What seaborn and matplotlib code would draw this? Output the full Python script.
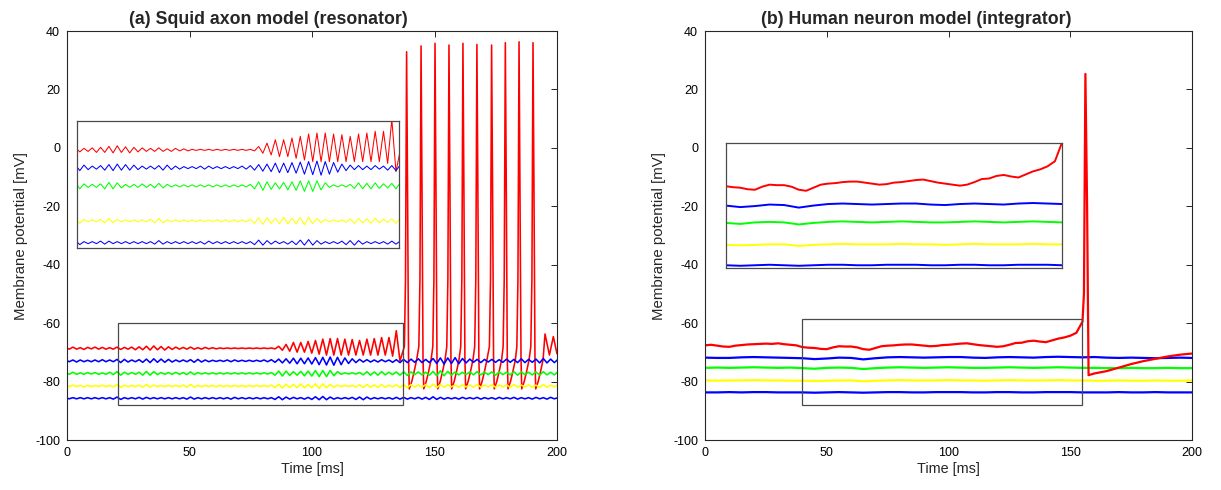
import numpy as np
import matplotlib
matplotlib.use("Agg")
import matplotlib.pyplot as plt
import seaborn as sns
from matplotlib.patches import Rectangle

# ======================= DATA =======================
# ---- panel (a): squid axon model, traces sampled every half oscillation period ----
A_STEP = 1.5      # ms between successive extrema
A_T0 = -0.6       # time of first sample (ms)
a_names = ["red", "blue1", "green", "yellow", "blue2"]
a_base = [-68.6, -72.9, -77.2, -81.5, -85.7]          # resting levels (mV)

a_red_dev = [0.3, -0.3, 0.4, -0.3, 0.2, -0.4, 0.3, -0.2, 0.4, -0.3, 0.3, -0.3, 0.2, -0.3,
             0.4, -0.4, 0.3, -0.3, 0.4, -0.5, 0.5, -0.5, 0.7, -0.6, 0.8, -0.5, 0.6, -0.6, 0.5, -0.4, 0.4,
             -0.3, 0.3, -0.3, 0.4, -0.3, 0.2, -0.3, 0.3, -0.2, 0.2, -0.2,
             0.1, -0.1, 0.1, -0.1, 0.1, -0.1, 0.1, -0.1, 0.1, -0.1, 0.1, -0.1, 0.1, -0.1, 0.1,
             -0.2, 0.67, -0.67, 1.33, -1.0, 2.0, -1.33, 2.0, -1.33, 2.33, -1.67, 2.67, -2.0, 3.13,
             -2.33, 3.33, -2.33, 3.33, -2.33, 3.13, -2.33, 3.0, -2.33, 2.67, -2.33, 3.13, -2.33, 3.33,
             -2.33, 3.67, -2.33, 3.67, -2.67, 6.0, -4.3]
a_blue1_dev = [0.3, -0.3, 0.3, -0.4, 0.3, -0.3, 0.2, -0.3, 0.3, -0.3, 0.4, -0.3, 0.3, -0.3,
               0.5, -0.6, 0.5, -0.4, 0.3, -0.3, 0.4, -0.5, 0.6, -0.6, 0.7, -0.5, 0.6, -0.5, 0.5, -0.4, 0.3,
               -0.3, 0.3, -0.3, 0.4, -0.5, 0.5, -0.4, 0.3, -0.3, 0.2, -0.2,
               0.2, -0.2, 0.3, -0.3, 0.3, -0.2, 0.2, -0.2, 0.2, -0.2, 0.2, -0.2, 0.3, -0.3, 0.4,
               -0.5, 0.6, -0.7, 0.7, -0.8, 0.9, -1.0, 0.9, -1.0, 1.0, -1.1, 1.1, -1.3, 1.2, -1.4, 1.3,
               -1.5, 1.2, -1.3, 1.0, -0.9, 0.7, -0.6, 0.5, -0.4, 0.4, -0.4, 0.3, -0.4, 0.4, -0.3, 0.3,
               -0.5, 0.4, -0.6,
               0.5, -0.6, 0.6, -0.5, 0.7, -0.6, 0.5, -0.6, 0.8, -0.9, 1.0, -1.1, 1.0, -0.9, 1.1, -1.0,
               0.8, -0.7, 0.6, -0.5, 0.5, -0.6, 0.5, -0.4, 0.5, -0.5, 0.4, -0.5, 0.6, -0.5, 0.5, -0.6,
               0.7, -0.6, 0.5, -0.5, 0.6, -0.7, 0.8, -0.7, 0.6, -0.6, 0.5]
a_green_dev = [0.3, -0.3, 0.4, -0.3, 0.2, -0.3, 0.3, -0.2, 0.3, -0.3, 0.2, -0.3, 0.4, -0.4,
               0.6, -0.6, 0.4, -0.3, 0.3, -0.3, 0.4, -0.6, 0.7, -0.6, 0.6, -0.4, 0.3, -0.3, 0.3, -0.3, 0.4,
               -0.3, 0.3, -0.4, 0.5, -0.4, 0.3, -0.2, 0.2, -0.2, 0.2, -0.2,
               0.2, -0.2, 0.2, -0.2, 0.2, -0.2, 0.2, -0.2, 0.2, -0.2, 0.2, -0.2, 0.2, -0.2, 0.3,
               -0.6, 0.8, -0.9, 0.8, -0.7, 0.6, -0.6, 0.7, -0.8, 0.8, -0.9, 1.0, -1.1, 1.0, -1.1, 1.0,
               -0.8, 0.6, -0.3, 0.2, -0.2, 0.2, -0.2, 0.3, -0.5, 0.6, -0.6, 0.5, -0.6, 0.6, -0.5, 0.4,
               -0.4, 0.5, -0.6,
               0.6, -0.7, 0.5, -0.4, 0.5, -0.5, 0.4, -0.6, 0.7, -0.8, 0.9, -0.8, 0.7, -0.6, 0.5, -0.5,
               0.4, -0.4, 0.5, -0.5, 0.6, -0.5, 0.4, -0.4, 0.5, -0.6, 0.5, -0.4, 0.4, -0.5, 0.6, -0.6,
               0.5, -0.4, 0.4, -0.5, 0.5, -0.6, 0.6, -0.5, 0.4, -0.5, 0.6]
a_yellow_dev = [0.2, -0.2, 0.3, -0.2, 0.2, -0.3, 0.2, -0.2, 0.2, -0.2, 0.3, -0.2, 0.2, -0.3,
                0.5, -0.5, 0.3, -0.2, 0.2, -0.2, 0.3, -0.4, 0.5, -0.4, 0.3, -0.2, 0.2, -0.2, 0.2, -0.2, 0.2,
                -0.2, 0.3, -0.4, 0.5, -0.4, 0.2, -0.2, 0.2, -0.2, 0.2, -0.2,
                0.2, -0.2, 0.2, -0.2, 0.2, -0.2, 0.2, -0.2, 0.2, -0.2, 0.2, -0.2, 0.2, -0.2, 0.3,
                -0.5, 0.6, -0.7, 0.6, -0.5, 0.5, -0.6, 0.7, -0.6, 0.5, -0.6, 0.7, -0.8, 0.7, -0.6, 0.5,
                -0.4, 0.3, -0.2, 0.2, -0.2, 0.2, -0.3, 0.4, -0.5, 0.5, -0.4, 0.4, -0.5, 0.5, -0.4, 0.3,
                -0.3, 0.4, -0.5,
                0.5, -0.6, 0.5, -0.4, 0.4, -0.4, 0.5, -0.6, 0.7, -0.6, 0.5, -0.4, 0.4, -0.3, 0.3, -0.4,
                0.4, -0.3, 0.3, -0.4, 0.5, -0.4, 0.3, -0.3, 0.4, -0.4, 0.3, -0.3, 0.4, -0.5, 0.5, -0.4,
                0.3, -0.3, 0.4, -0.4, 0.3, -0.4, 0.5, -0.4, 0.3, -0.3, 0.4]
a_blue2_dev = [0.2, -0.2, 0.2, -0.2, 0.2, -0.2, 0.2, -0.2, 0.2, -0.2, 0.2, -0.2, 0.2, -0.3,
               0.4, -0.4, 0.2, -0.2, 0.2, -0.2, 0.3, -0.3, 0.3, -0.2, 0.2, -0.2, 0.2, -0.2, 0.2, -0.2, 0.2,
               -0.2, 0.2, -0.3, 0.4, -0.3, 0.2, -0.2, 0.2, -0.2, 0.2, -0.2,
               0.2, -0.2, 0.2, -0.3, 0.3, -0.2, 0.2, -0.2, 0.2, -0.2, 0.2, -0.2, 0.2, -0.2, 0.2,
               -0.4, 0.5, -0.5, 0.4, -0.3, 0.3, -0.2, 0.2, -0.3, 0.3, -0.4, 0.5, -0.5, 0.6, -0.5, 0.4,
               -0.3, 0.2, -0.2, 0.2, -0.2, 0.3, -0.4, 0.4, -0.5, 0.4, -0.3, 0.2, -0.2, 0.2, -0.2, 0.2,
               -0.3, 0.3, -0.3,
               0.3, -0.3, 0.2, -0.2, 0.3, -0.3, 0.3, -0.4, 0.5, -0.4, 0.3, -0.3, 0.2, -0.2, 0.2, -0.3,
               0.3, -0.2, 0.2, -0.2, 0.3, -0.3, 0.2, -0.2, 0.2, -0.3, 0.3, -0.2, 0.2, -0.2, 0.3, -0.3,
               0.2, -0.2, 0.2, -0.3, 0.3, -0.2, 0.2, -0.3, 0.3, -0.2, 0.2]

# spike train of the red trace in (a)
a_spike_times = [138.6, 144.5, 150.2, 155.9, 161.6, 167.3, 173.3, 178.9, 184.5, 190.2]
a_spike_peaks = [32.9, 34.9, 35.8, 35.2, 35.8, 35.4, 35.2, 36.0, 36.3, 36.0]
a_spike_shape_dt = [-0.9, -0.45, 0.0, 0.4, 0.8, 1.1, 2.1, 3.1, 4.1]
a_spike_shape_v = [-68.0, -45.0, None, -15.0, -72.0, -82.5, -80.0, -76.5, -72.5]
a_tail_t = [195.1, 196.9, 198.5, 200.0]
a_tail_v = [-63.7, -70.9, -64.6, -70.5]

# ---- panel (b): human neuron model ----
b_red_step = 2.5
b_red_pre = [-67.6, -67.4, -67.7, -68.0, -68.1, -67.7, -67.5, -67.3, -67.2, -67.1, -67.0, -67.1,
             -66.9, -67.2, -67.4, -67.6, -68.2, -68.4, -68.5, -68.8, -68.9, -68.3, -67.9, -68.0,
             -68.0, -68.3, -68.9, -69.1, -68.5, -67.9, -67.7, -67.6, -67.4, -67.3, -67.3, -67.5,
             -67.7, -67.9, -67.8, -67.5, -67.4, -67.2, -67.0, -66.9, -67.2, -67.5, -67.7, -67.9,
             -68.1, -67.9, -67.4, -66.8, -66.7, -66.2, -66.0, -66.3, -66.5, -65.9, -65.3, -64.9,
             -64.3, -63.3, -59.5]
b_spike_t = [155.6, 156.2, 156.9, 157.5]
b_spike_v = [-50.0, 25.3, -20.0, -77.8]
b_recov_t = [160, 165, 170, 175, 180, 185, 190, 195, 200]
b_recov_v = [-77.2, -76.4, -75.2, -74.0, -73.0, -72.2, -71.4, -70.8, -70.4]

b_step = 5.0
b_blue1 = [-71.8, -71.9, -71.9, -71.7, -71.6, -71.7, -71.8, -71.9, -72.0, -72.3, -72.1, -71.8,
           -71.9, -72.4, -72.0, -71.7, -71.6, -71.7, -71.8, -71.7, -71.6, -71.6, -71.8, -71.9,
           -71.7, -71.6, -71.7, -71.8, -71.6, -71.5, -71.6, -71.7, -71.6, -71.8, -71.9, -71.8,
           -71.9, -72.0, -71.9, -71.8, -71.9]
b_green = [-75.3, -75.2, -75.3, -75.2, -75.1, -75.2, -75.3, -75.2, -75.4, -75.6, -75.3, -75.2,
           -75.3, -75.7, -75.4, -75.2, -75.1, -75.2, -75.3, -75.2, -75.1, -75.2, -75.3, -75.3,
           -75.2, -75.1, -75.2, -75.3, -75.2, -75.1, -75.2, -75.3, -75.3, -75.4, -75.4, -75.3,
           -75.4, -75.4, -75.3, -75.4, -75.4]
b_yellow = [-79.6, -79.7, -79.6, -79.6, -79.5, -79.6, -79.6, -79.7, -79.7, -79.8, -79.7, -79.6,
            -79.6, -79.9, -79.7, -79.6, -79.5, -79.6, -79.6, -79.6, -79.5, -79.6, -79.6, -79.7,
            -79.6, -79.5, -79.6, -79.6, -79.6, -79.5, -79.6, -79.6, -79.7, -79.7, -79.6, -79.7,
            -79.7, -79.6, -79.7, -79.7, -79.6]
b_blue2 = [-83.7, -83.7, -83.6, -83.7, -83.6, -83.6, -83.7, -83.7, -83.7, -83.8, -83.7, -83.6,
           -83.7, -83.8, -83.7, -83.6, -83.6, -83.7, -83.7, -83.6, -83.6, -83.6, -83.7, -83.7,
           -83.6, -83.6, -83.7, -83.7, -83.6, -83.6, -83.6, -83.7, -83.7, -83.7, -83.6, -83.7,
           -83.7, -83.6, -83.7, -83.7, -83.7]

# zoom windows (t0, t1, v0, v1) and inset display ranges
a_zoom = [21, 137, -88, -60]
a_inset_ylim = [-85, -60]
a_inset_shift = [2.9, 3.7, 4.4, 1.8, 1.7]
b_zoom = [40, 155, -88, -58.7]
b_inset_ylim = [-84.3, -59.8]

titles = ["(a) Squid axon model (resonator)", "(b) Human neuron model (integrator)"]
xlabel = "Time [ms]"
ylabel = "Membrane potential [mV]"
xticks = [0, 50, 100, 150, 200]
yticks = [-100, -80, -60, -40, -20, 0, 20, 40]

COL = {"red": "#FF0000", "blue1": "#0000FF", "green": "#00FF00", "yellow": "#FFFF00", "blue2": "#0000FF"}

# ======================= BUILD TRACES =======================
def grid(vals, step, t0=0.0):
    return t0 + step * np.arange(len(vals))

a_devs = [a_red_dev, a_blue1_dev, a_green_dev, a_yellow_dev, a_blue2_dev]
a_traces = {}
for name, base, dev in zip(a_names, a_base, a_devs):
    t = grid(dev, A_STEP, A_T0)
    v = base + np.array(dev)
    a_traces[name] = [list(t), list(v)]
# append the spikes to the red trace
rt, rv = a_traces["red"]
for tp, vp in zip(a_spike_times, a_spike_peaks):
    for dt, sv in zip(a_spike_shape_dt, a_spike_shape_v):
        rt.append(tp + dt)
        rv.append(vp if sv is None else sv)
rt += a_tail_t
rv += a_tail_v

b_traces = {
    "red": [list(grid(b_red_pre, b_red_step)) + b_spike_t + b_recov_t, b_red_pre + b_spike_v + b_recov_v],
    "blue1": [grid(b_blue1, b_step), b_blue1],
    "green": [grid(b_green, b_step), b_green],
    "yellow": [grid(b_yellow, b_step), b_yellow],
    "blue2": [grid(b_blue2, b_step), b_blue2],
}

# ======================= PLOT =======================
sns.set_style("white")
plt.rcParams["font.family"] = ["Liberation Sans", "DejaVu Sans"]
plt.rcParams["axes.unicode_minus"] = False
SPINE = "#262626"

fig = plt.figure(figsize=(12.21, 4.90), dpi=100)
axA = fig.add_axes([0.0549, 0.1020, 0.4013, 0.8347])
axB = fig.add_axes([0.5774, 0.1020, 0.3989, 0.8347])
inA = fig.add_axes([0.0633, 0.4945, 0.2635, 0.2586])
inB = fig.add_axes([0.5943, 0.4524, 0.2757, 0.2551])


def line(ax, t, v, c, lw):
    sns.lineplot(x=np.asarray(t, float), y=np.asarray(v, float), ax=ax, color=c, linewidth=lw,
                 estimator=None, sort=False, legend=False)


def style_main(ax, title, title_x):
    ax.set_xlim(0, 200)
    ax.set_ylim(-100, 40)
    ax.set_xticks(xticks)
    ax.set_yticks(yticks)
    ax.tick_params(direction="in", top=True, right=True, length=4.5, width=0.7,
                   color=SPINE, labelsize=9, labelcolor="black", pad=5)
    for s in ax.spines.values():
        s.set_color(SPINE)
        s.set_linewidth(0.8)
    ax.set_xlabel(xlabel, fontsize=10.4, labelpad=2)
    ax.set_ylabel(ylabel, fontsize=10.8, labelpad=5)
    ttl = ax.set_title(title, fontsize=12.8, fontweight="bold", pad=5)
    ttl.set_x(title_x)


def style_inset(ax, zoom, ylim):
    ax.set_xlim(zoom[0], zoom[1])
    ax.set_ylim(*ylim)
    ax.set_xticks([])
    ax.set_yticks([])
    ax.set_xlabel("")
    ax.set_ylabel("")
    ax.set_facecolor("white")
    for s in ax.spines.values():
        s.set_color("#4a4a4a")
        s.set_linewidth(0.9)


# panel (a): red first, others over it
for name in a_names:
    t, v = a_traces[name]
    line(axA, t, v, COL[name], 1.15)
style_main(axA, titles[0], 0.411)
axA.add_patch(Rectangle((a_zoom[0], a_zoom[2]), a_zoom[1] - a_zoom[0], a_zoom[3] - a_zoom[2],
                        fill=False, edgecolor="#4a4a4a", linewidth=0.9, zorder=5))

for name, sh in zip(a_names, a_inset_shift):
    t, v = a_traces[name]
    line(inA, t, np.asarray(v) + sh, COL[name], 0.75)
style_inset(inA, a_zoom, a_inset_ylim)

# panel (b): red drawn last (on top)
for name in ["blue1", "green", "yellow", "blue2", "red"]:
    t, v = b_traces[name]
    line(axB, t, v, COL[name], 1.6)
style_main(axB, titles[1], 0.433)
axB.add_patch(Rectangle((b_zoom[0], b_zoom[2]), b_zoom[1] - b_zoom[0], b_zoom[3] - b_zoom[2],
                        fill=False, edgecolor="#4a4a4a", linewidth=0.9, zorder=5))
for name in ["blue1", "green", "yellow", "blue2", "red"]:
    t, v = b_traces[name]
    line(inB, t, v, COL[name], 1.4)
style_inset(inB, b_zoom, b_inset_ylim)

fig.savefig("out.png", dpi=100)
